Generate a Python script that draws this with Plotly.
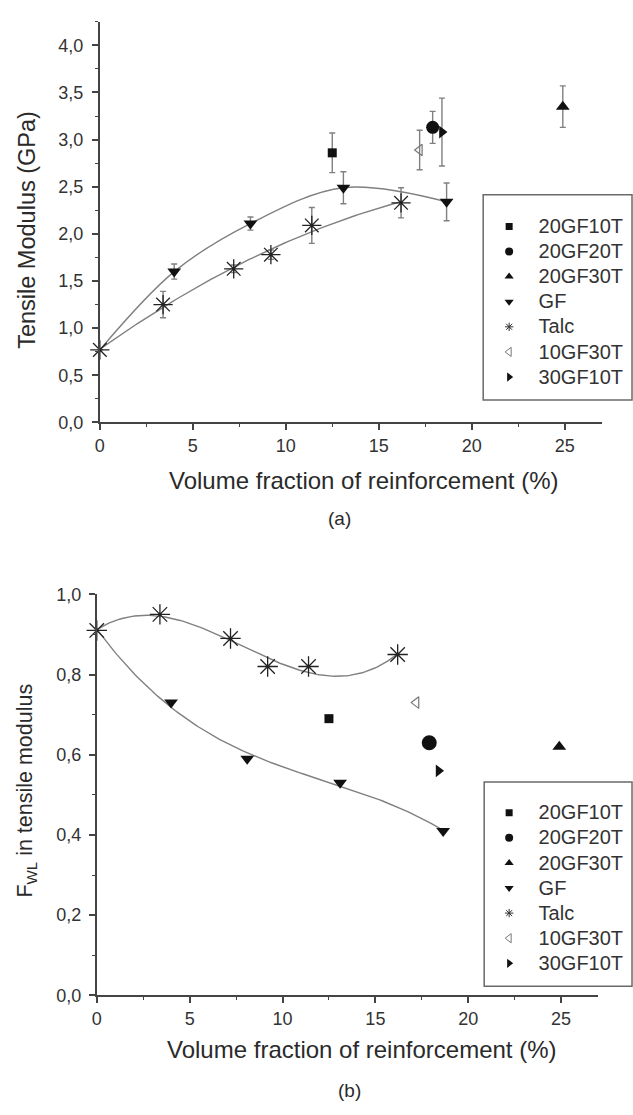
import numpy as np
import plotly.graph_objects as go

# ---------------- data ----------------
neat_x = 0.0
neat_mod = 0.77
neat_fwl = 0.91

talc_x = [0.0, 3.4, 7.2, 9.2, 11.4, 16.2]
talc_mod = [0.77, 1.25, 1.63, 1.78, 2.09, 2.33]
talc_mod_err = [0.0, 0.14, 0.04, 0.05, 0.19, 0.16]
talc_fwl = [0.91, 0.95, 0.89, 0.82, 0.82, 0.85]

gf_x = [4.0, 8.1, 13.1, 18.65]
gf_mod = [1.60, 2.11, 2.49, 2.34]
gf_mod_err = [0.08, 0.07, 0.17, 0.20]
gf_fwl = [0.73, 0.59, 0.53, 0.41]

hybrid_names = ["20GF10T", "20GF20T", "20GF30T", "10GF30T", "30GF10T"]
hybrid_x = [12.5, 17.9, 24.9, 17.2, 18.4]
hybrid_mod = [2.86, 3.13, 3.35, 2.89, 3.08]
hybrid_mod_err = [0.21, 0.17, 0.22, 0.21, 0.36]
hybrid_fwl = [0.69, 0.63, 0.62, 0.73, 0.56]

legend_order = ["20GF10T", "20GF20T", "20GF30T", "GF", "Talc", "10GF30T", "30GF10T"]

x_ticks = [0, 5, 10, 15, 20, 25]
mod_ticks = [0.0, 0.5, 1.0, 1.5, 2.0, 2.5, 3.0, 3.5, 4.0]
fwl_ticks = [0.0, 0.2, 0.4, 0.6, 0.8, 1.0]

# ---------------- styles ----------------
W, H = 633, 1115
FONT = "Liberation Sans, Arial, Helvetica, sans-serif"
INK = "#111111"
GREY = "#808080"
AXIS = "#444444"

style = {
    "20GF10T": dict(symbol="square", size=9, color=INK, line=dict(width=0)),
    "20GF20T": dict(symbol="circle", size=13, color=INK, line=dict(width=0)),
    "20GF30T": dict(symbol="triangle-up", size=12, color=INK, line=dict(width=0)),
    "GF": dict(symbol="triangle-down", size=12, color=INK, line=dict(width=0)),
    "Talc": dict(symbol="asterisk-open", size=16, color="#222222", line=dict(width=1.3, color="#222222")),
    "10GF30T": dict(symbol="triangle-left-open", size=10, color="#777777", line=dict(width=1.2, color="#777777")),
    "30GF10T": dict(symbol="triangle-right", size=11, color=INK, line=dict(width=0)),
}
legend_style = {
    "20GF10T": dict(symbol="square", size=7, color=INK),
    "20GF20T": dict(symbol="circle", size=8, color=INK),
    "20GF30T": dict(symbol="triangle-up", size=8, color=INK),
    "GF": dict(symbol="triangle-down", size=8, color=INK),
    "Talc": dict(symbol="asterisk-open", size=7, color="#333333", line=dict(width=1, color="#333333")),
    "10GF30T": dict(symbol="triangle-left-open", size=8, color="#777777", line=dict(width=1, color="#777777")),
    "30GF10T": dict(symbol="triangle-right", size=8, color=INK),
}


def px_x(p):
    return p / W


def px_y(p):
    return 1 - p / H


fig = go.Figure()

err_style = dict(type="data", color=GREY, thickness=1.4, width=3)
line_style = dict(color=GREY, width=1.4)

# ---------- top panel (a) ----------
fig.add_trace(go.Scatter(x=[neat_x] + gf_x, y=[neat_mod] + gf_mod, mode="lines",
                         line=dict(line_style, shape="spline", smoothing=1.0),
                         showlegend=False, xaxis="x", yaxis="y", hoverinfo="skip"))
c_talc_mod = np.polyfit(talc_x, talc_mod, 2)
xs_t = np.linspace(min(talc_x), max(talc_x), 120)
fig.add_trace(go.Scatter(x=xs_t, y=np.polyval(c_talc_mod, xs_t), mode="lines",
                         line=line_style,
                         showlegend=False, xaxis="x", yaxis="y", hoverinfo="skip"))
fig.add_trace(go.Scatter(x=gf_x, y=gf_mod, mode="markers", marker=style["GF"],
                         error_y=dict(array=gf_mod_err, **err_style),
                         showlegend=False, xaxis="x", yaxis="y", cliponaxis=False))
fig.add_trace(go.Scatter(x=talc_x, y=talc_mod, mode="markers", marker=style["Talc"],
                         error_y=dict(array=talc_mod_err, **err_style),
                         showlegend=False, xaxis="x", yaxis="y", cliponaxis=False))
for n, xv, yv, ev in zip(hybrid_names, hybrid_x, hybrid_mod, hybrid_mod_err):
    fig.add_trace(go.Scatter(x=[xv], y=[yv], mode="markers", marker=style[n],
                             error_y=dict(array=[ev], **err_style),
                             showlegend=False, xaxis="x", yaxis="y", cliponaxis=False))

# ---------- bottom panel (b) ----------
gf_all_x = [neat_x] + gf_x
gf_all_fwl = [neat_fwl] + gf_fwl
c_gf_fwl = np.polyfit(gf_all_x, gf_all_fwl, 3)
xs_g = np.linspace(min(gf_all_x), max(gf_all_x), 120)
fig.add_trace(go.Scatter(x=xs_g, y=np.polyval(c_gf_fwl, xs_g), mode="lines",
                         line=line_style,
                         showlegend=False, xaxis="x2", yaxis="y2", hoverinfo="skip"))
c_talc_fwl = np.polyfit(talc_x, talc_fwl, 3)
fig.add_trace(go.Scatter(x=xs_t, y=np.polyval(c_talc_fwl, xs_t), mode="lines",
                         line=line_style,
                         showlegend=False, xaxis="x2", yaxis="y2", hoverinfo="skip"))
fig.add_trace(go.Scatter(x=gf_x, y=gf_fwl, mode="markers", marker=style["GF"],
                         showlegend=False, xaxis="x2", yaxis="y2", cliponaxis=False))
fig.add_trace(go.Scatter(x=talc_x, y=talc_fwl, mode="markers", marker=dict(style["Talc"], size=17),
                         showlegend=False, xaxis="x2", yaxis="y2", cliponaxis=False))
for n, xv, yv in zip(hybrid_names, hybrid_x, hybrid_fwl):
    mk = dict(style[n])
    if n == "20GF20T":
        mk["size"] = 15
    fig.add_trace(go.Scatter(x=[xv], y=[yv], mode="markers", marker=mk,
                             showlegend=False, xaxis="x2", yaxis="y2", cliponaxis=False))

# ---------- legend entries ----------
for lg, xa, ya in (("legend", "x", "y"), ("legend2", "x2", "y2")):
    for n in legend_order:
        fig.add_trace(go.Scatter(
            x=[None], y=[None], mode="markers", marker=legend_style[n],
            name="\u00a0\u00a0<span style='font-size:20px'>" + n + "</span>",
            legend=lg, xaxis=xa, yaxis=ya, showlegend=True))

axis_common = dict(
    showline=True, linecolor=AXIS, linewidth=2, mirror=False,
    ticks="outside", ticklen=6, tickwidth=1.5, tickcolor=AXIS,
    showgrid=False, zeroline=False,
    tickfont=dict(family=FONT, size=18, color="#333333"),
    minor=dict(ticks="outside", ticklen=3, tickwidth=1.2, tickcolor=AXIS, showgrid=False),
)

leg_common = dict(
    xanchor="left", yanchor="top", bgcolor="rgba(0,0,0,0)", borderwidth=0,
    font=dict(family=FONT, size=17, color="#333333"), itemwidth=30,
    tracegroupgap=0, itemclick=False, itemdoubleclick=False,
)

fig.update_layout(
    width=W, height=H,
    margin=dict(l=0, r=0, t=0, b=0),
    paper_bgcolor="white", plot_bgcolor="white",
    separators=", ",
    font=dict(family=FONT, color="#333333"),
    xaxis=dict(axis_common, domain=[px_x(95.6), px_x(601.6)], range=[0, 27],
               tickvals=x_ticks, tickformat="d", anchor="y",
               minor=dict(axis_common["minor"], dtick=2.5, tick0=0)),
    yaxis=dict(axis_common, domain=[px_y(420), px_y(12)], range=[0, 4.25],
               tickvals=mod_ticks, tickformat=".1f", anchor="x", ticklabelstandoff=5,
               minor=dict(axis_common["minor"], dtick=0.25, tick0=0)),
    xaxis2=dict(axis_common, domain=[px_x(92.5), px_x(598)], range=[0, 27],
                tickvals=x_ticks, tickformat="d", anchor="y2",
                minor=dict(axis_common["minor"], dtick=2.5, tick0=0)),
    yaxis2=dict(axis_common, domain=[px_y(1003.4), px_y(595)], range=[0, 1.0],
                tickvals=fwl_ticks, tickformat=".1f", anchor="x2", ticklabelstandoff=4,
                minor=dict(axis_common["minor"], dtick=0.1, tick0=0)),
    legend=dict(leg_common, x=px_x(488), y=px_y(202.5)),
    legend2=dict(leg_common, x=px_x(488), y=px_y(799.5)),
    showlegend=True,
)

# legend frames
for (x0, y0, x1, y1) in ((482, 188, 632, 397), (483, 786, 632, 994)):
    fig.add_shape(type="rect", xref="paper", yref="paper",
                  x0=px_x(x0), x1=px_x(x1), y0=px_y(y1), y1=px_y(y0),
                  line=dict(color="#6a6a6a", width=1.5), fillcolor="rgba(0,0,0,0)")

ann_font = dict(family=FONT, color="#2a2a2a")
annos = [
    ("Tensile Modulus (GPa)", 22, 224, 23.5, -90),
    ("Volume fraction of reinforcement (%)", 362, 479, 24, 0),
    ("(a)", 337, 518, 19, 0),
    ("F<sub>WL</sub> in tensile modulus", 22, 795, 21.5, -90),
    ("Volume fraction of reinforcement (%)", 360, 1058, 24, 0),
    ("(b)", 347, 1100, 19, 0),
]
for t, ax, ay, fs, ang in annos:
    fig.add_annotation(text=t, x=px_x(ax), y=px_y(ay), xref="paper", yref="paper",
                       xanchor="center", yanchor="middle", showarrow=False,
                       textangle=ang, font=dict(ann_font, size=fs))

fig.write_html("out.html")
